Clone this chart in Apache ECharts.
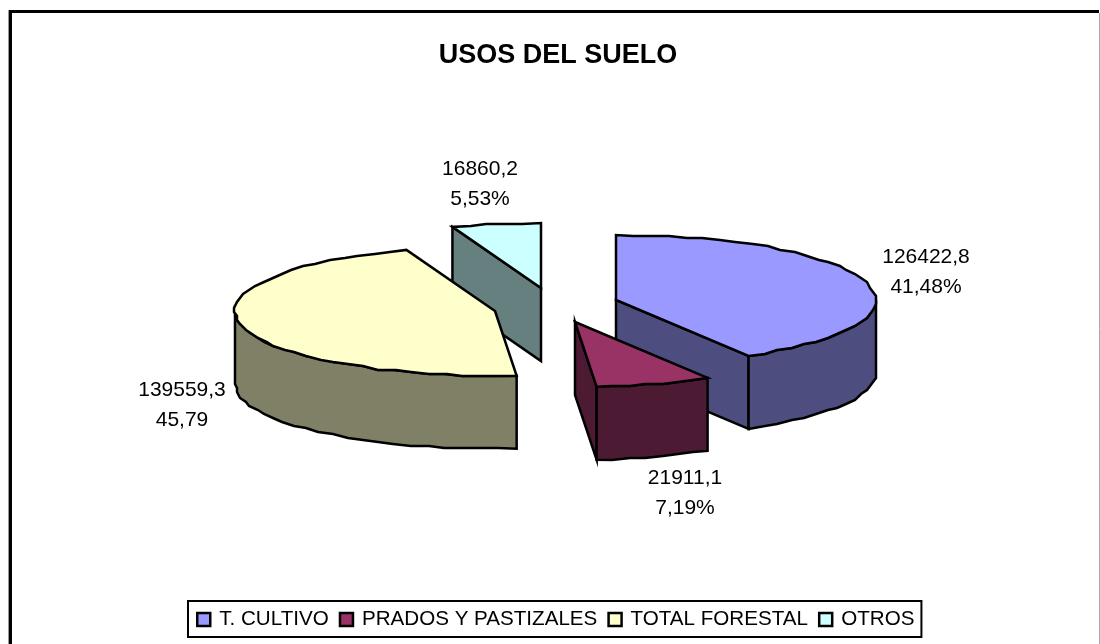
<!DOCTYPE html>
<html>
<head>
<meta charset="utf-8">
<style>
  html, body { margin: 0; padding: 0; background: #fff; }
  #chart { width: 1100px; height: 644px; }
</style>
<script src="https://cdnjs.cloudflare.com/ajax/libs/echarts/6.0.0/echarts.min.js"></script>
</head>
<body>
<div id="chart"></div>
<script>
// values
const categories = ["T. CULTIVO", "PRADOS Y PASTIZALES", "TOTAL FORESTAL", "OTROS"];
const hectares = [126422.8, 21911.1, 139559.3, 16860.2];
const valueLabels = ["126422,8", "21911,1", "139559,3", "16860,2"];
const shareLabels = ["41,48%", "7,19%", "45,79", "5,53%"];

const topColors = ["#9999ff", "#993366", "#ffffcc", "#ccffff"];
const sideColors = ["#4d4d80", "#4d1a33", "#808066", "#668080"];

// pie geometry, each slice has its own exploded apex
const apexes = [[616, 300], [575, 322], [495, 311], [541, 288]];
const labelSpots = [[926, 272], [685, 493], [182, 405], [480, 184]];
const rx = 260, ry = 65, depth = 73;
const fontName = '"Liberation Sans", Arial, sans-serif';
const drawOrder = [3, 2, 0, 1];

const total = hectares.reduce((a, b) => a + b, 0);

function sliceRange(i) {
  let before = 0;
  for (let k = 0; k < i; k++) before += hectares[k];
  return [before / total * 360, (before + hectares[i]) / total * 360];
}

function rimPoint(apex, deg, drop) {
  const t = deg * Math.PI / 180;
  return [apex[0] + rx * Math.sin(t), apex[1] - ry * Math.cos(t) + drop];
}

// the old chart has a stepped edge, so the rim is snapped to a coarse grid
function rimPath(apex, from, to, drop) {
  const pts = [];
  const steps = Math.max(1, Math.ceil((to - from) / 4));
  for (let s = 0; s <= steps; s++) {
    const p = rimPoint(apex, from + (to - from) * s / steps, drop);
    const inner = s > 0 && s < steps;
    pts.push(inner ? [Math.round(p[0] / 3) * 3, Math.round(p[1] / 2) * 2] : p);
  }
  return pts;
}

function wall(apex, deg, side) {
  const p = rimPoint(apex, deg, 0);
  return {
    type: "polygon",
    shape: { points: [apex, p, [p[0], p[1] + depth], [apex[0], apex[1] + depth]] },
    style: { fill: side, stroke: "#000", lineWidth: 2.5 }
  };
}

function renderSlice(i) {
  const range = sliceRange(i);
  const apex = apexes[i];
  const kids = [];
  // walls that face the viewer
  if (Math.cos((range[1] + 90) * Math.PI / 180) < -0.01) kids.push(wall(apex, range[1], sideColors[i]));
  if (Math.cos((range[0] - 90) * Math.PI / 180) < -0.01) kids.push(wall(apex, range[0], sideColors[i]));
  // front rim
  const from = Math.max(range[0], 90), to = Math.min(range[1], 270);
  if (to > from) {
    const upper = rimPath(apex, from, to, 0);
    const lower = rimPath(apex, from, to, depth).reverse();
    kids.push({
      type: "polygon",
      shape: { points: upper.concat(lower) },
      style: { fill: sideColors[i], stroke: "#000", lineWidth: 2.5 }
    });
  }
  // top face
  kids.push({
    type: "polygon",
    shape: { points: [apex].concat(rimPath(apex, range[0], range[1], 0)) },
    style: { fill: topColors[i], stroke: "#000", lineWidth: 2.5, lineJoin: "miter" }
  });
  kids.push({
    type: "text",
    style: {
      text: valueLabels[i] + "\n" + shareLabels[i],
      x: labelSpots[i][0], y: labelSpots[i][1],
      align: "center", verticalAlign: "middle",
      fontFamily: fontName, fontSize: 21, lineHeight: 30, fill: "#000"
    }
  });
  return { type: "group", children: kids };
}

const chart = echarts.init(document.getElementById("chart"));
chart.setOption({
  animation: false,
  backgroundColor: "#fff",
  title: {
    text: "USOS DEL SUELO",
    left: 553, top: 37, textAlign: "center",
    textStyle: { fontFamily: fontName, fontSize: 27, fontWeight: "bold", color: "#000" }
  },
  legend: {
    left: 188, top: 601,
    padding: [8, 7, 7, 8],
    data: categories.map((name, i) => ({
      name: name,
      icon: "rect",
      itemStyle: { color: topColors[i], borderColor: "#000", borderWidth: 2.5 }
    })),
    itemWidth: 13, itemHeight: 13, itemGap: 10,
    selectedMode: false,
    borderColor: "#000", borderWidth: 2,
    textStyle: { fontFamily: fontName, fontSize: 20.6, color: "#000", padding: [0, 0, 0, 4] }
  },
  graphic: [
    { type: "line", shape: { x1: 8, y1: 11.5, x2: 1099, y2: 11.5 }, style: { stroke: "#000", lineWidth: 3 } },
    { type: "line", shape: { x1: 10.5, y1: 10, x2: 10.5, y2: 644 }, style: { stroke: "#000", lineWidth: 3 } },
    { type: "line", shape: { x1: 8.5, y1: 10, x2: 8.5, y2: 644 }, style: { stroke: "#999", lineWidth: 1 } },
    { type: "line", shape: { x1: 1099.5, y1: 13, x2: 1099.5, y2: 644 }, style: { stroke: "#aaa", lineWidth: 1 } }
  ],
  series: drawOrder.map(i => ({
    type: "custom",
    name: categories[i],
    coordinateSystem: "none",
    data: [[hectares[i]]],
    renderItem: () => renderSlice(i)
  }))
});
</script>
</body>
</html>
